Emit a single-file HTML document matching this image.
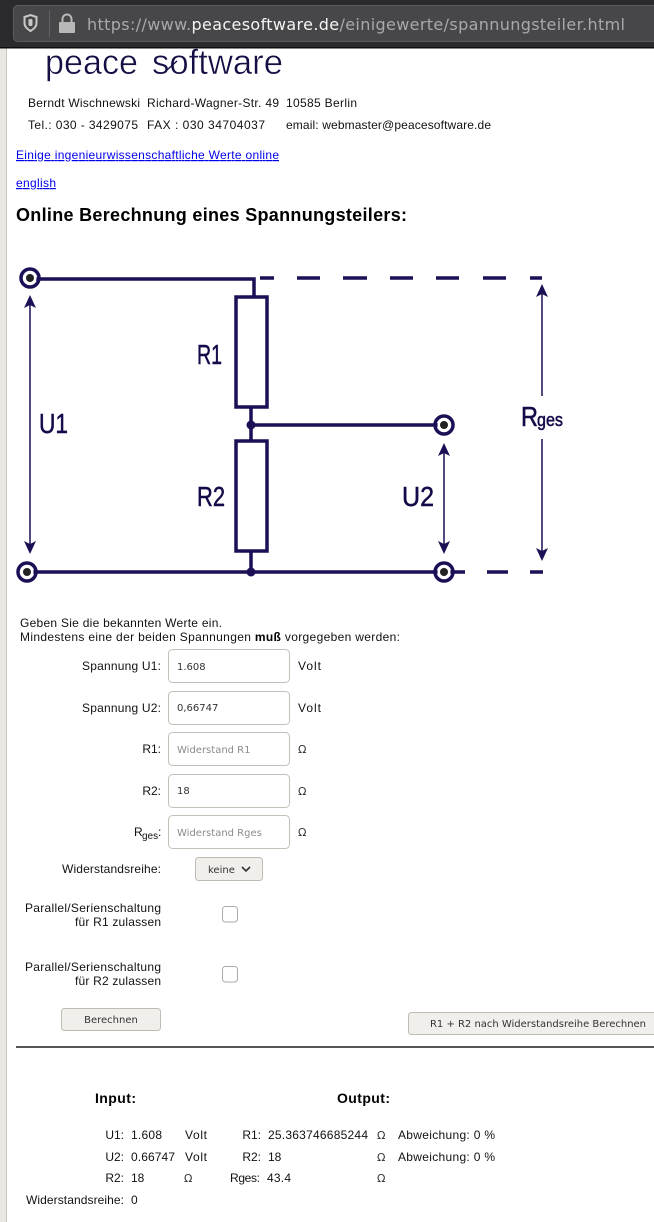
<!DOCTYPE html>
<html lang="de"><head><meta charset="utf-8"><title>Spannungsteiler</title>
<style>
html,body{margin:0;padding:0;background:#fff;width:654px;height:1222px;overflow:hidden}
svg{display:block}
text{font-family:"Liberation Sans",sans-serif;font-size:12px;fill:#111}
.d{font-family:"DejaVu Sans",sans-serif;font-size:10px;fill:#333}
.o{font-family:"DejaVu Sans",sans-serif;font-size:11px;fill:#333}
.p{font-family:"DejaVu Sans",sans-serif;font-size:10px;fill:#8a8a8a}
.b{font-weight:bold;fill:#000}
.l{fill:#00e}
.c{fill:#140a4a;font-size:28px;stroke:#140a4a;stroke-width:.5}
.inp{fill:#fff;stroke:#c4c0b8}
.btn{fill:#f1efec;stroke:#c0bcb4}
.w{stroke:#1c0f55;fill:none;stroke-width:3.5}
.ar{fill:#1c0f55}
.logo{font-size:35px;fill:#140f45;stroke:#fff;stroke-width:.5}
</style></head><body>
<svg width="654" height="1222" viewBox="0 0 654 1222" xmlns="http://www.w3.org/2000/svg">
<rect width="654" height="1222" fill="#fff"/>
<rect x="0" y="48" width="6" height="1174" fill="#e9e7e2"/><rect x="6" y="48" width="1" height="1174" fill="#c9c6bf"/>

<!-- logo -->
<text class="logo" x="45" y="74" textLength="93" lengthAdjust="spacingAndGlyphs">peace</text>
<text class="logo" x="152" y="74" textLength="131" lengthAdjust="spacingAndGlyphs">software</text>
<path d="M167 70l10-9" stroke="#140f45" stroke-width="1.4" fill="none"/>

<!-- browser bar -->
<rect width="654" height="48" fill="#2b2a2e"/><rect y="47" width="654" height="1.5" fill="#0c0c0d"/>
<rect x="13.5" y="5.5" width="660" height="36" rx="4" fill="#474749" stroke="#5c5c5f"/>
<path d="M24.5 17l6-2 6 2v6c0 4-3 6-6 8-3-2-6-4-6-8z" fill="none" stroke="#c8c8c8" stroke-width="2"/>
<rect x="28.5" y="19" width="4" height="7" rx="1.5" fill="#c8c8c8"/>
<rect x="49" y="10" width="1" height="27" fill="#626265"/>
<rect x="59" y="22" width="16" height="11" rx="1" fill="#b8b8b8"/>
<path d="M62.5 22v-3a4.5 4.5 0 0 1 9 0v3" fill="none" stroke="#b8b8b8" stroke-width="2"/>
<text x="87" y="30" textLength="538" lengthAdjust="spacing" style="font-family:'DejaVu Sans',sans-serif;font-size:16px;fill:#a9a9ab">https://www.<tspan fill="#f5f5f5">peacesoftware.de</tspan>/einigewerte/spannungsteiler.html</text>

<!-- header text -->
<text x="28" y="107" textLength="112" lengthAdjust="spacing">Berndt Wischnewski</text>
<text x="147" y="107" textLength="132" lengthAdjust="spacing">Richard-Wagner-Str. 49</text>
<text x="286" y="107" textLength="71" lengthAdjust="spacing">10585 Berlin</text>
<text x="28" y="129" textLength="110" lengthAdjust="spacing">Tel.: 030 - 3429075</text>
<text x="147" y="129" textLength="118" lengthAdjust="spacing">FAX : 030 34704037</text>
<text x="286" y="129" textLength="205" lengthAdjust="spacing">email: webmaster@peacesoftware.de</text>
<text class="l" x="16" y="159" textLength="263" lengthAdjust="spacing" text-decoration="underline">Einige ingenieurwissenschaftliche Werte online</text>
<text class="l" x="16" y="187" textLength="40" lengthAdjust="spacing" text-decoration="underline">english</text>
<text class="b" x="16" y="221" style="font-size:18px" textLength="391" lengthAdjust="spacing">Online Berechnung eines Spannungsteilers:</text>

<!-- circuit -->
<g class="w">
<path d="M30 279H254V297"/>
<path d="M260 278h14M297 278h23M343 278h24M390 278h23M436 278h23M483 278h23M530 278h12"/>
<rect x="236" y="297" width="31" height="110"/>
<rect x="236" y="441" width="31" height="110"/>
<path d="M251 407V441M251 425H444M251 551V572M27 572H465M487 572h21M530 572h13"/>
<circle cx="30" cy="278" r="9"/><circle cx="27" cy="572" r="9"/><circle cx="444" cy="425" r="9"/><circle cx="444" cy="572" r="9"/>
</g>
<circle cx="30" cy="278" r="6.5" fill="#fff"/><circle cx="27" cy="572" r="6.5" fill="#fff"/><circle cx="444" cy="425" r="6.5" fill="#fff"/><circle cx="444" cy="572" r="6.5" fill="#fff"/>
<g class="ar">
<circle cx="30" cy="278" r="4" fill="#222"/><circle cx="27" cy="572" r="4" fill="#222"/><circle cx="444" cy="425" r="4" fill="#222"/><circle cx="444" cy="572" r="4" fill="#222"/>
<circle cx="251" cy="425" r="4.5"/><circle cx="251" cy="572" r="4.5"/>
<path d="M30 295l-6 13 6-3 6 3zM30 554l-6-13 6 3 6-3zM444 443l-6 13 6-3 6 3zM444 554l-6-13 6 3 6-3zM542 284l-6 13 6-3 6 3zM542 561l-6-13 6 3 6-3z"/>
</g>
<path d="M30 300V548M444 450V548M542 290V396M542 439V554" stroke="#1c0f55" stroke-width="1.5" fill="none"/>
<text class="c" x="197" y="364" textLength="25" lengthAdjust="spacingAndGlyphs">R1</text>
<text class="c" x="197" y="506" textLength="28" lengthAdjust="spacingAndGlyphs">R2</text>
<text class="c" x="39" y="433" textLength="29" lengthAdjust="spacingAndGlyphs">U1</text>
<text class="c" x="402" y="506" textLength="32" lengthAdjust="spacingAndGlyphs">U2</text>
<text class="c" x="521" y="426" textLength="17" lengthAdjust="spacingAndGlyphs">R</text>
<text class="c" x="537" y="426" style="font-size:18px" textLength="26" lengthAdjust="spacingAndGlyphs">ges</text>

<!-- form -->
<text x="20" y="627" textLength="202" lengthAdjust="spacing">Geben Sie die bekannten Werte ein.</text>
<text x="20" y="641" textLength="380" lengthAdjust="spacing">Mindestens eine der beiden Spannungen <tspan font-weight="bold" fill="#000">muß</tspan> vorgegeben werden:</text>
<text x="82" y="670" textLength="79" lengthAdjust="spacing">Spannung U1:</text>
<text x="82" y="712" textLength="79" lengthAdjust="spacing">Spannung U2:</text>
<text x="161" y="753" text-anchor="end">R1:</text>
<text x="161" y="795" text-anchor="end">R2:</text>
<text x="62" y="873" textLength="99" lengthAdjust="spacing">Widerstandsreihe:</text>
<text x="25" y="912" textLength="136" lengthAdjust="spacing">Parallel/Serienschaltung</text>
<text x="75" y="926" textLength="86" lengthAdjust="spacing">für R1 zulassen</text>
<text x="25" y="971" textLength="136" lengthAdjust="spacing">Parallel/Serienschaltung</text>
<text x="75" y="985" textLength="86" lengthAdjust="spacing">für R2 zulassen</text>
<text x="134" y="836">R</text><text x="142" y="839" style="font-size:10px">ges</text><text x="158" y="836">:</text>
<rect class="inp" x="168.5" y="649.5" width="121" height="33" rx="4"/>
<rect class="inp" x="168.5" y="691.5" width="121" height="33" rx="4"/>
<rect class="inp" x="168.5" y="732.5" width="121" height="33" rx="4"/>
<rect class="inp" x="168.5" y="774.5" width="121" height="33" rx="4"/>
<rect class="inp" x="168.5" y="815.5" width="121" height="33" rx="4"/>
<text class="d" x="177" y="670">1.608</text>
<text class="d" x="177" y="711">0,66747</text>
<text class="p" x="177" y="753">Widerstand R1</text>
<text class="d" x="177" y="794">18</text>
<text class="p" x="177" y="836">Widerstand Rges</text>
<text x="298" y="670" textLength="23" lengthAdjust="spacing">Volt</text><text x="298" y="712" textLength="23" lengthAdjust="spacing">Volt</text>
<text class="o" x="298" y="753">Ω</text><text class="o" x="298" y="795">Ω</text><text class="o" x="298" y="836">Ω</text>
<rect class="btn" x="195.5" y="857.5" width="67" height="23" rx="3"/>
<text class="d" x="208" y="873">keine</text>
<path d="M242 867l4 4 4-4" fill="none" stroke="#333" stroke-width="1.6"/>
<rect class="inp" x="222.5" y="906.5" width="15" height="15.5" rx="3" style="stroke:#aaa"/>
<rect class="inp" x="222.5" y="966.5" width="15" height="15.5" rx="3" style="stroke:#aaa"/>
<rect class="btn" x="61.5" y="1008.5" width="99" height="22" rx="3"/>
<text class="d" x="111" y="1023" text-anchor="middle">Berechnen</text>
<rect class="btn" x="408.5" y="1012.5" width="250" height="22" rx="3"/>
<text class="d" x="430" y="1027" textLength="216" lengthAdjust="spacing">R1 + R2 nach Widerstandsreihe Berechnen</text>
<rect x="16" y="1046" width="638" height="2" fill="#555"/>

<!-- results -->
<text class="b" x="95" y="1103" style="font-size:14px" textLength="41" lengthAdjust="spacing">Input:</text>
<text class="b" x="337" y="1103" style="font-size:14px" textLength="53" lengthAdjust="spacing">Output:</text>
<text x="124" y="1139" text-anchor="end">U1:</text><text x="124" y="1161" text-anchor="end">U2:</text><text x="124" y="1182" text-anchor="end">R2:</text>
<text x="26" y="1204" textLength="98" lengthAdjust="spacing">Widerstandsreihe:</text>
<text x="261" y="1139" text-anchor="end">R1:</text><text x="261" y="1161" text-anchor="end">R2:</text>
<text x="230" y="1182" textLength="30" lengthAdjust="spacing">Rges:</text>
<text x="131" y="1139" textLength="31" lengthAdjust="spacing">1.608</text><text x="131" y="1161" textLength="44" lengthAdjust="spacing">0.66747</text><text x="131" y="1182">18</text><text x="131" y="1204">0</text>
<text x="185" y="1139" textLength="22" lengthAdjust="spacing">Volt</text><text x="185" y="1161" textLength="22" lengthAdjust="spacing">Volt</text><text class="o" x="184" y="1182">Ω</text>
<text x="268" y="1139" textLength="100" lengthAdjust="spacing">25.363746685244</text><text x="268" y="1161">18</text><text x="267" y="1182" textLength="24" lengthAdjust="spacing">43.4</text>
<text class="o" x="377" y="1139">Ω</text><text class="o" x="377" y="1161">Ω</text><text class="o" x="377" y="1182">Ω</text>
<text x="398" y="1139" textLength="97" lengthAdjust="spacing">Abweichung: 0 %</text>
<text x="398" y="1161" textLength="97" lengthAdjust="spacing">Abweichung: 0 %</text>
</svg>
</body></html>
